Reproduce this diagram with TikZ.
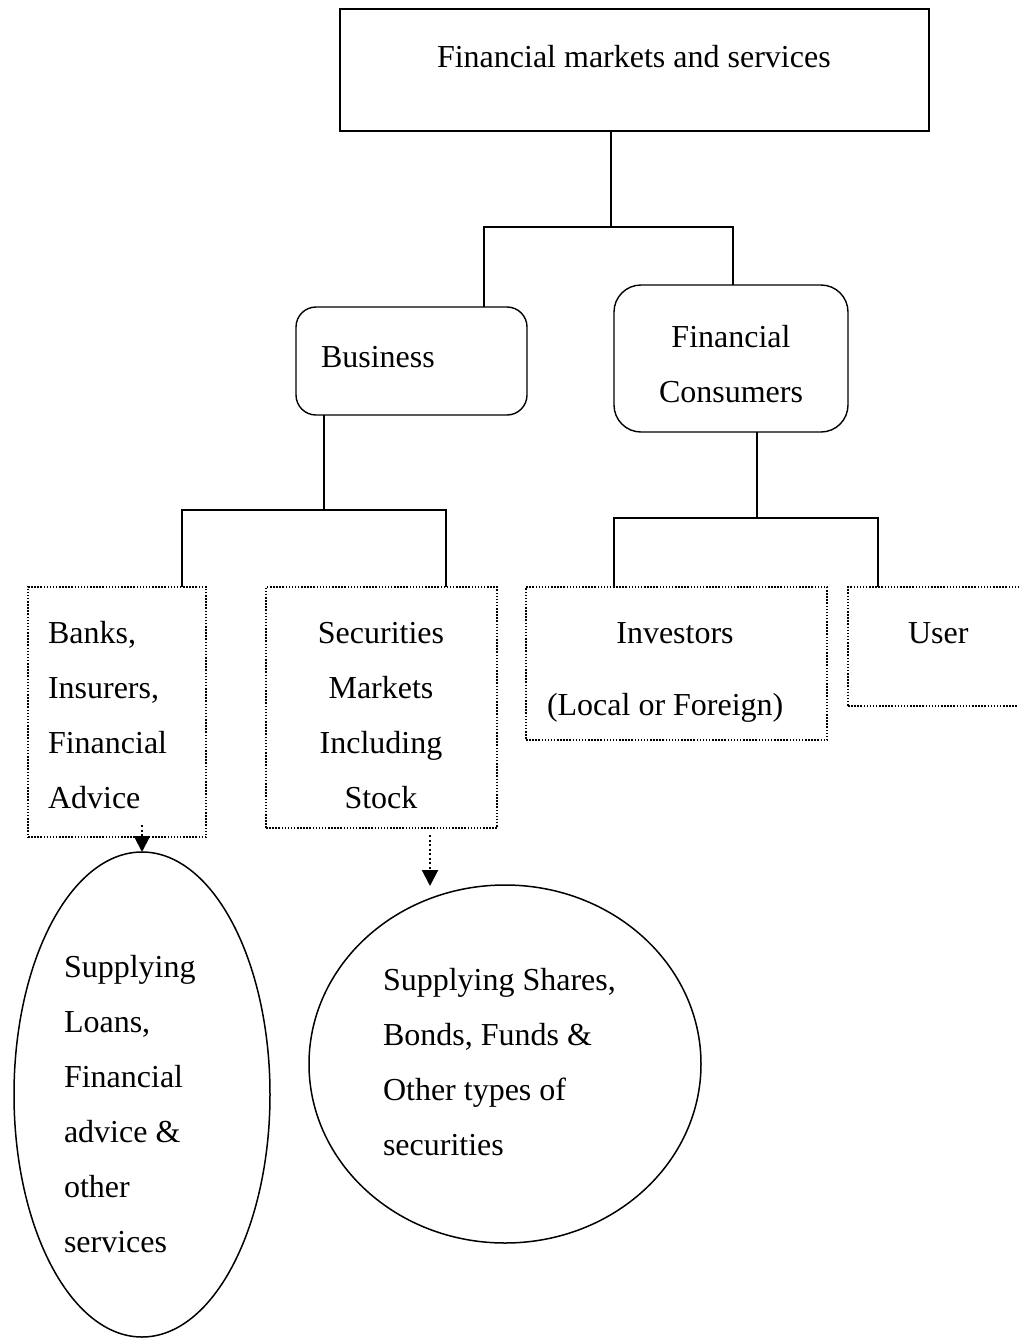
\documentclass[tikz,border=0pt]{standalone}
\usepackage{fontspec}
\setmainfont{Liberation Serif}
\usetikzlibrary{shapes.geometric,arrows.meta,calc}
\newcommand\mylines[2]{\begin{tabular}[t]{@{}#1@{}}#2\end{tabular}}
\begin{document}
\begin{tikzpicture}[x=1pt,y=-1pt,
  every node/.style={inner sep=0pt, outer sep=0pt},
  txt/.style={font=\fontsize{32}{55}\selectfont},
  solidbox/.style={draw, line width=2pt},
  roundbox/.style={draw, line width=1.4pt, rounded corners=#1},
  dotbox/.style={draw, line width=1.5pt, dash pattern=on 1.5pt off 1.6pt},
  conn/.style={line width=2pt},
  oval/.style={draw, ellipse, line width=1.5pt},
  dotarrow/.style={line width=2pt, dash pattern=on 2pt off 2.5pt, -{Triangle[width=16pt,length=16pt]}}]
\useasboundingbox (0,0) rectangle (1018,1338);

% level 0
\node[solidbox, minimum width=589pt, minimum height=122pt] (top) at (634.5,70) {};
\node[txt, anchor=base west] (toptxt) at (437,67) {Financial markets and services};

% level 1
\node[roundbox=20pt, minimum width=231pt, minimum height=108pt] (bus) at (411.5,361) {};
\node[txt, anchor=base west] (bustxt) at (321,367) {Business};
\node[roundbox=27pt, minimum width=234pt, minimum height=147pt] (con) at (731,358.5) {};
\node[txt, anchor=base] (contxt) at (731,347) {\mylines{c}{Financial\\Consumers}};

% level 2
\node[dotbox, minimum width=178pt, minimum height=250pt] (banks) at (117,712) {};
\node[txt, anchor=base west] (bankstxt) at (48,643) {\mylines{l}{Banks,\\Insurers,\\Financial\\Advice}};
\node[dotbox, minimum width=231pt, minimum height=241pt] (sec) at (381.5,707.5) {};
\node[txt, anchor=base] (sectxt) at (381,643) {\mylines{c}{Securities\\Markets\\Including\\Stock}};
\node[dotbox, minimum width=301pt, minimum height=153pt] (inv) at (676.5,663.5) {};
\node[txt, anchor=base] (invtxt) at (675,643) {Investors};
\node[txt, anchor=base west] (invtxt2) at (547,715) {(Local or Foreign)};
\node[dotbox, minimum width=192pt, minimum height=119pt] (user) at (944,646.5) {};
\node[txt, anchor=base west] (usertxt) at (908,643) {User};

% connectors
\coordinate (j0) at (611,227);
\coordinate (jb) at (484,227);
\coordinate (jc) at (733,227);
\draw[conn] (top.south -| j0) -- (j0);
\draw[conn] (bus.north -| jb) -- (jb) -- (jc) -- (con.north -| jc);
\coordinate (k0) at (324,510);
\coordinate (kb) at (182,510);
\coordinate (ks) at (446,510);
\draw[conn] (bus.south -| k0) -- (k0);
\draw[conn] (banks.north -| kb) -- (kb) -- (ks) -- (sec.north -| ks);
\coordinate (m0) at (757,518);
\coordinate (mi) at (614,518);
\coordinate (mu) at (878,518);
\draw[conn] (con.south -| m0) -- (m0);
\draw[conn] (inv.north -| mi) -- (mi) -- (mu) -- (user.north -| mu);

% ovals
\node[oval, minimum width=256pt, minimum height=485pt] (ell1) at (142,1094.5) {};
\node[txt, anchor=base west] (ell1txt) at (64,977) {\mylines{l}{Supplying\\Loans,\\Financial\\advice \&\\other\\services}};
\node[oval, minimum width=392pt, minimum height=358pt] (ell2) at (505,1064) {};
\node[txt, anchor=base west] (ell2txt) at (383,990) {\mylines{l}{Supplying Shares,\\Bonds, Funds \&\\Other types of\\securities}};

% arrows
\coordinate (a1) at (142,825);
\draw[dotarrow] (a1) -- (ell1.north);
\coordinate (a2s) at (430,835);
\coordinate (a2e) at (430,886);
\draw[dotarrow] (a2s) -- (a2e);
\end{tikzpicture}
\end{document}
